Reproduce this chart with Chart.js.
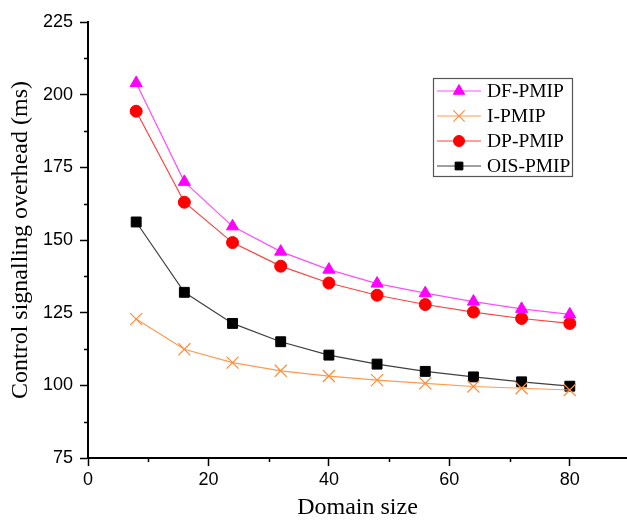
<!DOCTYPE html>
<html>
<head>
<meta charset="utf-8">
<title>Control signalling overhead</title>
<script src="https://cdn.jsdelivr.net/npm/chart.js@4/dist/chart.umd.min.js"></script>
<style>
  html, body { margin: 0; padding: 0; background: #fff; }
  #wrap { width: 627px; height: 522px; }
</style>
</head>
<body>
<div id="wrap"><canvas id="overheadChart" width="627" height="522"></canvas></div>
<script>
// Domain sizes on the x axis
const domainSizes = [8, 16, 24, 32, 40, 48, 56, 64, 72, 80];

// Control signalling overhead (ms) per scheme
const dfPmip = [204, 170, 154.7, 146, 139.8, 135, 131.7, 128.8, 126.3, 124.4];
const iPmip = [122.8, 112.4, 107.8, 105, 103.2, 101.8, 100.7, 99.6, 99, 98.4];
const dpPmip = [194.3, 163, 149.1, 141, 135.2, 131, 127.8, 125.2, 123, 121.3];
const oisPmip = [156.2, 132, 121.3, 115, 110.4, 107.3, 104.8, 102.9, 101.2, 99.7];

const seriesLabels = ["DF-PMIP", "I-PMIP", "DP-PMIP", "OIS-PMIP"];

// Axis ticks
const xTicks = [0, 20, 40, 60, 80];
const xMinorTicks = [10, 30, 50, 70];
const yTicks = [75, 100, 125, 150, 175, 200, 225];
const yMinorTicks = [87.5, 112.5, 137.5, 162.5, 187.5, 212.5];

const sansFont = "'Liberation Sans', Arial, sans-serif";
const serifFont = "'Liberation Serif', 'Times New Roman', serif";

function toPoints(values) {
  return values.map((v, i) => ({ x: domainSizes[i], y: v }));
}

// Short outward ticks between the labelled ones
const minorTicks = {
  id: "minorTicks",
  afterDraw(chart) {
    const { ctx, chartArea } = chart;
    const xs = chart.scales.x;
    const ys = chart.scales.y;
    ctx.save();
    ctx.strokeStyle = "#000";
    ctx.lineWidth = 1.5;
    ctx.beginPath();
    yMinorTicks.forEach((v) => {
      const py = Math.round(ys.getPixelForValue(v)) + 0.5;
      ctx.moveTo(chartArea.left - 4, py);
      ctx.lineTo(chartArea.left, py);
    });
    xMinorTicks.forEach((v) => {
      const px = Math.round(xs.getPixelForValue(v)) + 0.5;
      ctx.moveTo(px, chartArea.bottom);
      ctx.lineTo(px, chartArea.bottom + 4);
    });
    ctx.stroke();
    ctx.restore();
  },
};

// Boxed legend with a line sample through each marker
const boxLegend = {
  id: "boxLegend",
  afterDraw(chart) {
    const ctx = chart.ctx;
    const left = 433, top = 78, width = 139, height = 98;
    const rowH = 25;
    ctx.save();
    ctx.fillStyle = "#fff";
    ctx.fillRect(left, top, width, height);
    ctx.strokeStyle = "#555";
    ctx.lineWidth = 1.2;
    ctx.strokeRect(left + 0.5, top + 0.5, width, height);

    chart.data.datasets.forEach((ds, i) => {
      const cy = top + 13 + i * rowH;
      ctx.strokeStyle = ds.borderColor;
      ctx.lineWidth = 1;
      ctx.beginPath();
      ctx.moveTo(left + 4, cy);
      ctx.lineTo(left + 48, cy);
      ctx.stroke();

      ctx.fillStyle = ds.pointBackgroundColor;
      ctx.strokeStyle = ds.pointBorderColor;
      ctx.lineWidth = ds.pointBorderWidth;
      Chart.helpers.drawPoint(ctx, {
        pointStyle: ds.pointStyle,
        radius: ds.legendRadius,
        rotation: 0,
        borderWidth: ds.pointBorderWidth,
      }, left + 26, cy);

      ctx.fillStyle = "#000";
      ctx.font = "19.5px " + serifFont;
      ctx.textBaseline = "middle";
      ctx.textAlign = "left";
      ctx.fillText(ds.label, left + 54, cy + 1);
    });
    ctx.restore();
  },
};

new Chart(document.getElementById("overheadChart"), {
  type: "line",
  data: {
    datasets: [
      {
        label: seriesLabels[0],
        data: toPoints(dfPmip),
        borderColor: "#ff4dff",
        borderWidth: 1.2,
        pointStyle: "triangle",
        pointRadius: 7,
        legendRadius: 6.5,
        pointBackgroundColor: "#ff00ff",
        pointBorderColor: "#ff00ff",
        pointBorderWidth: 1,
      },
      {
        label: seriesLabels[1],
        data: toPoints(iPmip),
        borderColor: "#ff9a50",
        borderWidth: 1.2,
        pointStyle: "crossRot",
        pointRadius: 8.5,
        legendRadius: 8,
        pointBackgroundColor: "#ff8c3c",
        pointBorderColor: "#ff8c3c",
        pointBorderWidth: 1.2,
      },
      {
        label: seriesLabels[2],
        data: toPoints(dpPmip),
        borderColor: "#ff4040",
        borderWidth: 1.2,
        pointStyle: "circle",
        pointRadius: 6,
        legendRadius: 5.5,
        pointBackgroundColor: "#ff0000",
        pointBorderColor: "#ff0000",
        pointBorderWidth: 1,
      },
      {
        label: seriesLabels[3],
        data: toPoints(oisPmip),
        borderColor: "#404040",
        borderWidth: 1.2,
        pointStyle: "rect",
        pointRadius: 7,
        legendRadius: 5.5,
        pointBackgroundColor: "#000",
        pointBorderColor: "#000",
        pointBorderWidth: 1,
      },
    ],
  },
  options: {
    responsive: false,
    animation: false,
    // the x axis runs right up to the canvas edge
    layout: { autoPadding: false, padding: { top: 22, right: 0, bottom: 0, left: 0 } },
    plugins: {
      legend: { display: false },
      tooltip: { enabled: false },
    },
    scales: {
      x: {
        type: "linear",
        min: 0,
        max: 89.5,
        afterBuildTicks: (scale) => {
          scale.ticks = xTicks.map((v) => ({ value: v }));
        },
        afterFit: (scale) => {
          scale.height = 64;
        },
        border: { display: true, color: "#000", width: 2 },
        grid: {
          drawOnChartArea: false,
          drawTicks: true,
          tickLength: 8,
          tickColor: "#000",
          tickWidth: 1.5,
        },
        ticks: {
          color: "#000",
          padding: 3,
          maxRotation: 0,
          font: { family: sansFont, size: 18 },
        },
        title: {
          display: true,
          text: "Domain size",
          color: "#000",
          padding: { top: 0, bottom: 0 },
          font: { family: serifFont, size: 24 },
        },
      },
      y: {
        type: "linear",
        min: 75,
        max: 225,
        afterBuildTicks: (scale) => {
          scale.ticks = yTicks.map((v) => ({ value: v }));
        },
        afterFit: (scale) => {
          scale.width = 88;
        },
        border: { display: true, color: "#000", width: 2 },
        grid: {
          drawOnChartArea: false,
          drawTicks: true,
          tickLength: 8,
          tickColor: "#000",
          tickWidth: 1.5,
        },
        ticks: {
          color: "#000",
          padding: 7,
          font: { family: sansFont, size: 18 },
        },
        title: {
          display: true,
          text: "Control signalling overhead (ms)",
          color: "#000",
          padding: { top: 6, bottom: 0 },
          font: { family: serifFont, size: 24 },
        },
      },
    },
  },
  plugins: [minorTicks, boxLegend],
});
</script>
</body>
</html>
